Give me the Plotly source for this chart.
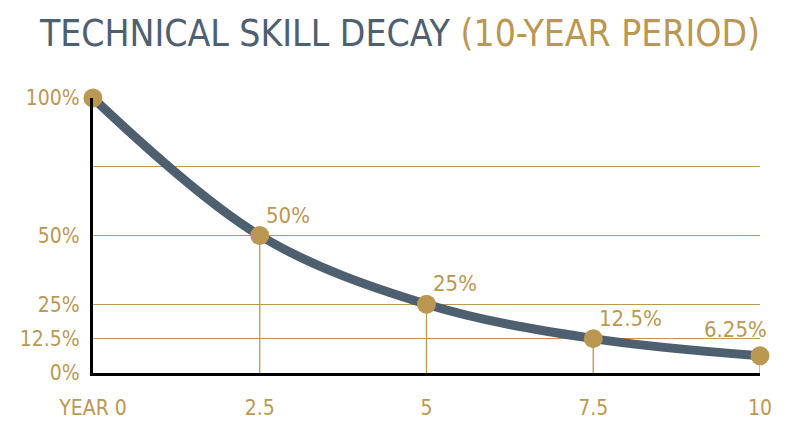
import plotly.graph_objects as go

years = [0, 2.5, 5, 7.5, 10]
skill = [100, 50, 25, 12.5, 6.25]
point_labels = ["", "50%", "25%", "12.5%", "6.25%"]
y_ticks = [0, 12.5, 25, 50, 75, 100]
y_tick_text = ["0%", "12.5%", "25%", "50%", "", "100%"]
x_tick_text = ["YEAR 0", "2.5", "5", "7.5", "10"]

gold = "#BA9852"
slate = "#4E5F70"
font = "DejaVu Sans Condensed, DejaVu Sans, sans-serif"


def narrow(s):
    return f"<span style='font-stretch:condensed'>{s}</span>" if s else s


fig = go.Figure()

# drop lines from each point to the axis
drop_x, drop_y = [], []
for x, y in zip(years[1:], skill[1:]):
    drop_x += [x, x, None]
    drop_y += [y, 0, None]
fig.add_trace(
    go.Scatter(
        x=drop_x, y=drop_y, mode="lines",
        line=dict(color=gold, width=1.3), hoverinfo="skip", showlegend=False,
    )
)

fig.add_trace(
    go.Scatter(
        x=years, y=skill, mode="lines",
        line=dict(color=slate, width=9, shape="spline", smoothing=1.0),
        showlegend=False, cliponaxis=False,
    )
)
fig.add_trace(
    go.Scatter(
        x=years, y=skill, mode="markers",
        marker=dict(color=gold, size=19),
        showlegend=False, cliponaxis=False,
    )
)

# point labels
for x, y, t in zip(years, skill, point_labels):
    if not t:
        continue
    last = x == years[-1]
    fig.add_annotation(
        x=x, y=y, text=narrow(t), showarrow=False,
        xanchor="right" if last else "left", yanchor="bottom",
        xshift=9 if last else 4, yshift=12 if last else 6,
        font=dict(family=font, size=22, color=gold),
    )

fig.update_layout(
    width=800, height=447,
    margin=dict(l=93, r=40, t=98, b=74),
    paper_bgcolor="white", plot_bgcolor="white",
    title=dict(
        text=narrow(f"TECHNICAL SKILL DECAY <span style='color:{gold}'>(10-YEAR PERIOD)</span>"),
        x=0.5, xanchor="center", y=0.925, yanchor="middle",
        font=dict(family=font, size=37, color=slate),
    ),
)
fig.update_xaxes(
    range=[0, 10], tickvals=years, ticktext=[narrow(t) for t in x_tick_text],
    showgrid=False, zeroline=False,
    showline=True, linecolor="black", linewidth=3,
    ticks="", ticklabelstandoff=14,
    tickfont=dict(family=font, size=21, color=gold),
)
fig.update_yaxes(
    range=[0, 100], tickvals=y_ticks, ticktext=[narrow(t) for t in y_tick_text],
    showgrid=True, gridcolor=gold, gridwidth=1.4, zeroline=False,
    showline=True, linecolor="black", linewidth=3,
    ticks="", ticklabelstandoff=6,
    tickfont=dict(family=font, size=21, color=gold),
)

fig.write_html(
    "out.html",
    config={"displayModeBar": False},
    post_script="document.body.style.margin='0';",
)
